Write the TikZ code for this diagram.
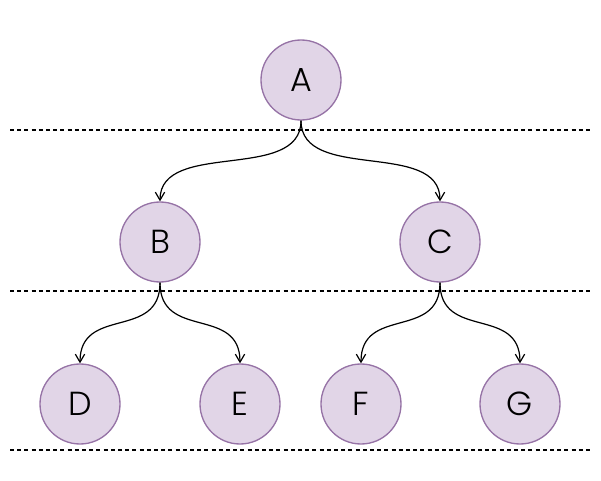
\documentclass[tikz,border=0pt]{standalone}
\usepackage{fontspec}
\setmainfont{Poppins}[UprightFont=* Light]
\usetikzlibrary{arrows.meta}
\definecolor{nodefill}{HTML}{E1D5E7}
\definecolor{nodeline}{HTML}{9673A6}
\tikzset{
  treenode/.style={circle, draw=nodeline, fill=nodefill, line width=1pt,
    minimum size=80*0.75pt, inner sep=0pt, font=\fontsize{25}{30}\selectfont},
  levelline/.style={dash pattern=on 3pt off 2.4pt, line width=1.6pt},
  link/.style={line width=0.9pt, -{Straight Barb[length=6pt,width=7pt]}}
}
\begin{document}
\begin{tikzpicture}[x=0.75pt,y=-0.75pt]
\useasboundingbox (0,0) rectangle (601,481);
\coordinate (l1a) at (10,130); \coordinate (l1b) at (590,130);
\coordinate (l2a) at (10,291); \coordinate (l2b) at (590,291);
\coordinate (l3a) at (10,450); \coordinate (l3b) at (590,450);
\draw[levelline] (l1a) -- (l1b);
\draw[levelline] (l2a) -- (l2b);
\draw[levelline] (l3a) -- (l3b);
\node[treenode] (A) at (301,80) {A};
\node[treenode] (B) at (160,242) {B};
\node[treenode] (C) at (440,242) {C};
\node[treenode] (D) at (80,404) {D};
\node[treenode] (E) at (240,404) {E};
\node[treenode] (F) at (361,404) {F};
\node[treenode] (G) at (520,404) {G};
\draw[link] (A.south) .. controls +(0,62) and +(0,-62) .. (B.north);
\draw[link] (A.south) .. controls +(0,62) and +(0,-62) .. (C.north);
\draw[link] (B.south) .. controls +(0,58) and +(0,-58) .. (D.north);
\draw[link] (B.south) .. controls +(0,58) and +(0,-58) .. (E.north);
\draw[link] (C.south) .. controls +(0,58) and +(0,-58) .. (F.north);
\draw[link] (C.south) .. controls +(0,58) and +(0,-58) .. (G.north);
\end{tikzpicture}
\end{document}
